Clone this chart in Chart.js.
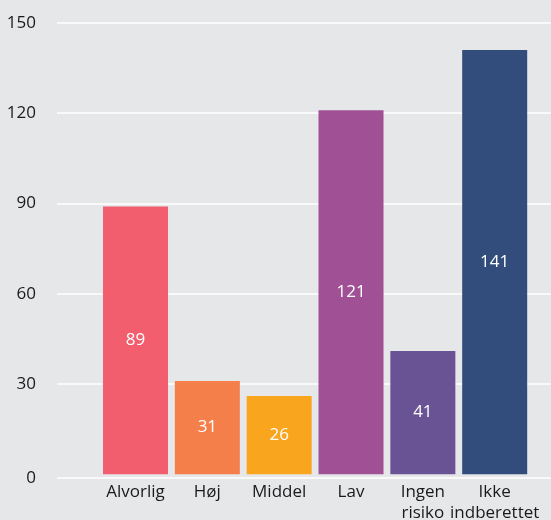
<!DOCTYPE html>
<html>
<head>
<meta charset="utf-8">
<script src="https://cdn.jsdelivr.net/npm/chart.js@4"></script>
<style>
  html, body { margin: 0; padding: 0; background: #e6e7e9; }
</style>
</head>
<body>
<canvas id="myChart" width="551" height="520"></canvas>
<script>
const categories = ["Alvorlig", "Høj", "Middel", "Lav", ["Ingen", "risiko"], ["Ikke", "indberettet"]];
const counts = [89, 31, 26, 121, 41, 141];
const yTicks = [0, 30, 60, 90, 120, 150];
const barColors = ["#f25e6d", "#f47f4a", "#f9a61e", "#a05195", "#6a5394", "#324d7c"];

const bgPlugin = {
  id: "bg",
  beforeDraw(chart) {
    const ctx = chart.ctx;
    ctx.save();
    ctx.fillStyle = "#e6e7e9";
    ctx.fillRect(0, 0, chart.width, chart.height);
    ctx.restore();
  },
};

// white gridlines, running past the plot area on both sides
const gridPlugin = {
  id: "grid",
  beforeDatasetsDraw(chart) {
    const { ctx, scales: { y } } = chart;
    ctx.save();
    ctx.strokeStyle = "#ffffff";
    ctx.lineWidth = 1.5;
    y.ticks.forEach((t) => {
      const py = Math.round(y.getPixelForValue(t.value));
      ctx.beginPath();
      ctx.moveTo(57, py);
      ctx.lineTo(chart.width, py);
      ctx.stroke();
    });
    ctx.restore();
  },
};

// value in the middle of each bar
const valuePlugin = {
  id: "values",
  afterDatasetsDraw(chart) {
    const ctx = chart.ctx;
    const meta = chart.getDatasetMeta(0);
    ctx.save();
    ctx.fillStyle = "#ffffff";
    ctx.font = "17px 'Open Sans'";
    ctx.textAlign = "center";
    ctx.textBaseline = "middle";
    meta.data.forEach((bar, i) => {
      ctx.fillText(String(counts[i]), bar.x, (bar.y + bar.base) / 2);
    });
    ctx.restore();
  },
};

const config = {
  type: "bar",
  data: {
    labels: categories,
    datasets: [
      {
        data: counts,
        backgroundColor: barColors,
        borderWidth: 0,
        barPercentage: 0.905,
        categoryPercentage: 1,
      },
    ],
  },
  options: {
    responsive: false,
    animation: false,
    layout: { padding: { top: 23, right: 20.4, left: 0, bottom: -7 } },
    plugins: {
      legend: { display: false },
      tooltip: { enabled: false },
    },
    scales: {
      x: {
        grid: { display: false, drawTicks: false },
        border: { display: false },
        ticks: {
          color: "#1a1a1a",
          font: { family: "'Open Sans'", size: 17, lineHeight: 1.2 },
          padding: 4,
          maxRotation: 0,
          autoSkip: false,
        },
      },
      y: {
        min: -1.3,
        max: 150,
        grid: {
          display: true,
          drawOnChartArea: false,
          drawTicks: true,
          tickLength: 60.6,
          tickColor: "rgba(0,0,0,0)",
        },
        border: { display: false },
        afterBuildTicks: (s) => {
          s.ticks = yTicks.map((v) => ({ value: v === 0 ? s.min : v }));
        },
        afterFit: (s) => {
          s.width = 99.6;
        },
        ticks: {
          color: "#1a1a1a",
          font: { family: "'Open Sans'", size: 17 },
          padding: 3,
          callback: (v) => (v < 0 ? "0" : v),
        },
      },
    },
  },
  plugins: [bgPlugin, gridPlugin, valuePlugin],
};

const myChart = new Chart(document.getElementById("myChart"), config);
</script>
</body>
</html>
